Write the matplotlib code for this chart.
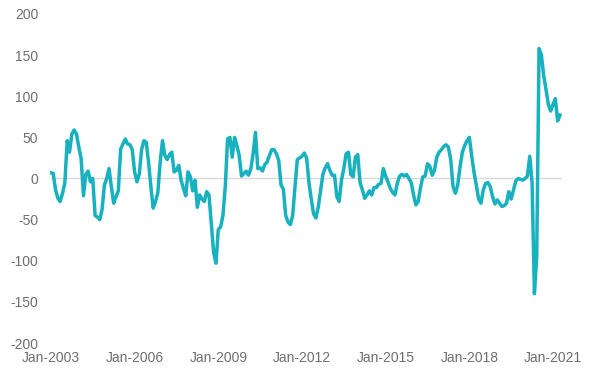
import matplotlib

matplotlib.use("Agg")
import matplotlib.pyplot as plt

# monthly values, Jan-2003 .. Apr-2021
values = [
    7, 6, -14, -24, -28, -18, -5, 46, 32, 54, 59, 54,  # 2003
    38, 24, -21, 5, 9, -4, 0, -45, -47, -50, -38, -8,  # 2004
    0, 12, -10, -30, -22, -15, 36, 42, 48, 42, 41, 35,  # 2005
    8, -4, 5, 35, 46, 44, 20, -10, -36, -28, -17, 20,  # 2006
    46, 28, 23, 29, 32, 8, 10, 16, -2, -12, -21, 8,  # 2007
    2, -15, -2, -35, -20, -25, -28, -16, -20, -55, -90, -103,  # 2008
    -62, -59, -45, -10, 48, 50, 26, 50, 40, 28, 3, 6,  # 2009
    9, 4, 12, 30, 56, 12, 13, 9, 17, 20, 28, 35,  # 2010
    35, 30, 22, -8, -13, -45, -53, -56, -45, -10, 23, 25,  # 2011
    27, 31, 25, -5, -25, -43, -48, -35, -15, 5, 13, 18,  # 2012
    10, 4, 4, -22, -28, -2, 12, 30, 32, 5, 2, 26,  # 2013
    29, -5, -14, -24, -20, -15, -20, -11, -11, -7, -6, 12,  # 2014
    3, -4, -12, -17, -20, -6, 3, 5, 3, 5, 0, -5,  # 2015
    -20, -32, -28, -11, 2, 3, 18, 15, 4, 10, 26, 32,  # 2016
    35, 39, 41, 38, 23, -10, -18, -8, 14, 32, 40, 46,  # 2017
    50, 28, 8, -8, -25, -30, -14, -6, -5, -10, -22, -31,  # 2018
    -26, -30, -34, -33, -30, -16, -25, -14, -3, 0, -1, -2,  # 2019
    0, 3, 27, -5, -140, -95, 158, 150, 125, 108, 90, 82,  # 2020
    90, 97, 70, 77,  # 2021
]
tick_months = [0, 36, 72, 108, 144, 180, 216]
tick_labels = ["Jan-2003", "Jan-2006", "Jan-2009", "Jan-2012", "Jan-2015", "Jan-2018", "Jan-2021"]
y_ticks = [-200, -150, -100, -50, 0, 50, 100, 150, 200]

plt.rcParams["font.family"] = ["Liberation Sans", "DejaVu Sans"]

fig = plt.figure(figsize=(6.06, 3.73), dpi=100)
ax = fig.add_axes([0.0825, 0.0804, 0.845, 0.8821])

months = list(range(len(values)))
ax.axhline(0, color="#d9d9d9", linewidth=1.0, zorder=1)
ax.plot(months, values, color="#17b1bf", linewidth=2.5, solid_joinstyle="round", zorder=2)

ax.set_xlim(-0.4, 219.9)
ax.set_ylim(-200, 200)
ax.set_xticks(tick_months)
ax.set_xticklabels(tick_labels)
ax.set_yticks(y_ticks)
ax.set_yticklabels([str(v) for v in y_ticks])
ax.tick_params(length=0, labelsize=10, labelcolor="#6f6f6f")
ax.tick_params(axis="x", pad=6)
ax.tick_params(axis="y", pad=8.5)
for spine in ax.spines.values():
    spine.set_visible(False)

fig.savefig("out.png", dpi=100)
